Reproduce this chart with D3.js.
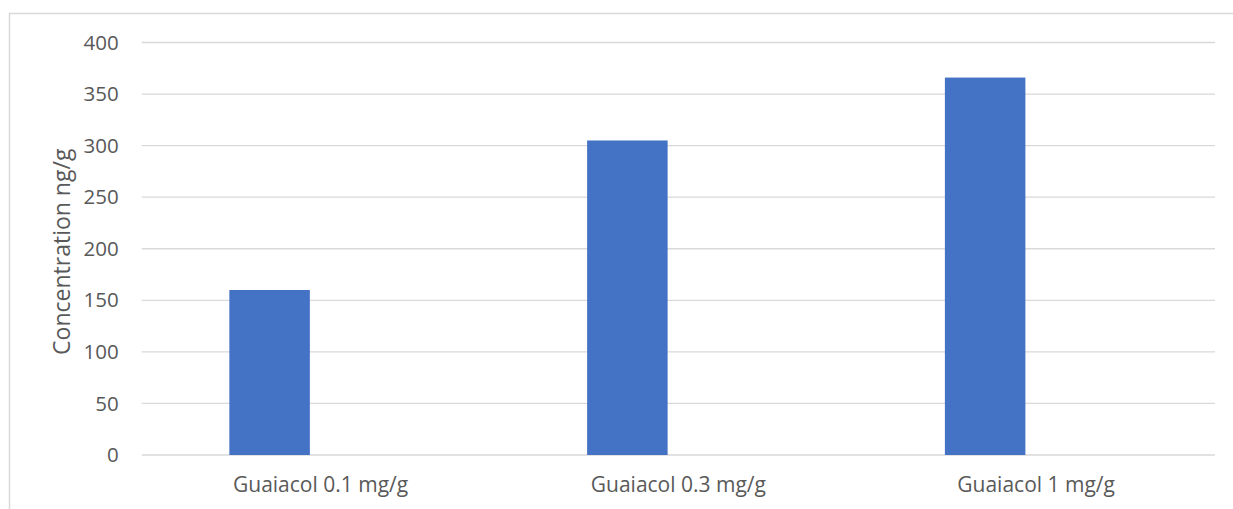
<!DOCTYPE html>
<html>
<head>
<meta charset="utf-8">
<script src="https://cdn.jsdelivr.net/npm/d3@7"></script>
<style>
  body { margin: 0; background: #fff; }
  svg { display: block; font-family: "Open Sans", sans-serif; }
  .tick text { fill: #595959; }
</style>
</head>
<body>
<svg class="chart"></svg>
<script>
const categories = ["Guaiacol 0.1 mg/g", "Guaiacol 0.3 mg/g", "Guaiacol 1 mg/g"]
const values = [160, 305, 366]
const yTicks = [0, 50, 100, 150, 200, 250, 300, 350, 400]

const WIDTH = 1233, HEIGHT = 509
const PLOT = { left: 141.7, right: 1215, top: 42.5, bottom: 455 }

const svg = d3.select('svg.chart')
  .attr('width', WIDTH).attr('height', HEIGHT)

// outer chart border (right/bottom edges fall outside the picture)
svg.append('rect')
  .attr('x', 9.5).attr('y', 13.5)
  .attr('width', 1260).attr('height', 540)
  .attr('fill', 'none')
  .attr('stroke', '#d9d9d9')
  .attr('stroke-width', 1.5)

const xScale = d3.scaleBand()
  .domain(categories)
  .range([PLOT.left, PLOT.right])
  .padding(0)

const yScale = d3.scaleLinear()
  .domain([0, 400])
  .range([PLOT.bottom, PLOT.top])

// grid lines
svg.append('g')
  .selectAll('line')
  .data(yTicks)
  .enter()
  .append('line')
  .attr('x1', PLOT.left).attr('x2', PLOT.right)
  .attr('y1', d => yScale(d)).attr('y2', d => yScale(d))
  .attr('stroke', '#d9d9d9')
  .attr('stroke-width', 1.3)

// y axis labels
const yAxis = svg.append('g')
  .attr('transform', `translate(${PLOT.left}, 0)`)
  .call(d3.axisLeft(yScale).tickValues(yTicks).tickSize(0).tickPadding(23))
  .attr('font-family', null)
yAxis.select('.domain').remove()
yAxis.selectAll('text').style('font-size', '20.5px')

// bars: first slot of a two-slot group inside each band
const bw = xScale.bandwidth()
svg.append('g')
  .selectAll('rect')
  .data(values)
  .enter()
  .append('rect')
  .attr('x', (d, i) => xScale(categories[i]) + bw * 0.245)
  .attr('width', bw * 0.225)
  .attr('y', d => yScale(d))
  .attr('height', d => yScale(0) - yScale(d))
  .attr('fill', '#4472c4')

// x axis labels
const xAxis = svg.append('g')
  .attr('transform', `translate(0, ${PLOT.bottom})`)
  .call(d3.axisBottom(xScale).tickSize(0).tickPadding(22))
  .attr('font-family', null)
xAxis.select('.domain').remove()
xAxis.selectAll('text').style('font-size', '21px')

// left label
svg.append('text')
  .attr('transform', `translate(70, ${(PLOT.top + PLOT.bottom) / 2 + 3}) rotate(-90)`)
  .attr('text-anchor', 'middle')
  .attr('fill', '#595959')
  .style('font-size', '23px')
  .text('Concentration ng/g')
</script>
</body>
</html>
